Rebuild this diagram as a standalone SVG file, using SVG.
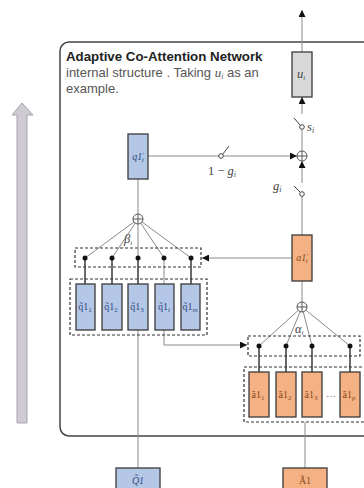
<svg xmlns="http://www.w3.org/2000/svg" width="364" height="488" viewBox="0 0 364 488">
<defs>
<marker id="ah" viewBox="0 0 8 8" refX="8" refY="4" markerWidth="7" markerHeight="7" orient="auto" markerUnits="userSpaceOnUse"><path d="M0,0 L8,4 L0,8 z" fill="#111"/></marker>
<style>
.box{stroke:#3a3a3a;stroke-width:1.3}
.blue{fill:#b4c7e7}
.org{fill:#f4b183}
.grey{fill:#d9d9d9}
.ln{stroke:#8a8a8a;stroke-width:1;fill:none}
.dk{stroke:#3a3a3a;stroke-width:1.5;fill:none}
.dash{fill:none;stroke:#333;stroke-width:1.2;stroke-dasharray:3,2}
.dot{fill:#111}
.plus{fill:#fff;stroke:#555;stroke-width:1}
.sw{fill:#fff;stroke:#444;stroke-width:1}
.lbl{font-family:"Liberation Serif",serif;font-size:10px;text-anchor:middle}
.bl{fill:#2e4a7d}
.br{fill:#8a4a1c}
.math{font-family:"Liberation Serif",serif;font-style:italic;font-size:12.5px;fill:#444}
</style>
</defs>
<rect width="364" height="488" fill="#fff"/>
<g id="bigarrow"><polygon points="17,423 27,423 27,115 33,115 22,103 12,115 17,115" fill="#cfcbd3" stroke="#a8a4ad" stroke-width="1"/></g>
<g id="container">
<rect x="60" y="42" width="330" height="394" rx="9" fill="none" stroke="#444" stroke-width="1.5"/>
<text x="66" y="61" font-family="Liberation Sans,Arial,sans-serif" font-size="13.3" font-weight="bold" fill="#222">Adaptive Co-Attention Network</text>
<text x="66" y="77" font-family="Liberation Sans,Arial,sans-serif" font-size="13" fill="#555">internal structure . Taking <tspan font-family="Liberation Serif,serif" font-style="italic">u<tspan font-size="8" dy="2">i</tspan></tspan><tspan dy="-2"> as an</tspan></text>
<text x="66" y="93" font-family="Liberation Sans,Arial,sans-serif" font-size="13" fill="#555">example.</text>
</g>
<g id="connectors">
<line class="ln" x1="302" y1="52" x2="302" y2="10" marker-end="url(#ah)"/>
<line class="ln" x1="302" y1="114" x2="302" y2="97" marker-end="url(#ah)"/>
<line class="ln" x1="302" y1="129" x2="302" y2="151"/>
<line class="ln" x1="148" y1="156" x2="219" y2="156"/>
<line class="ln" x1="223" y1="156" x2="297" y2="156" marker-end="url(#ah)"/>
<line class="ln" x1="302" y1="183" x2="302" y2="161" marker-end="url(#ah)"/>
<line class="ln" x1="302" y1="196" x2="302" y2="235"/>
<line class="ln" x1="138" y1="179" x2="138" y2="219"/>
<line class="ln" x1="292" y1="258" x2="202" y2="258" marker-end="url(#ah)"/>
<line class="ln" x1="302" y1="281" x2="302" y2="307"/>
<g class="ln">
<line x1="138" y1="219" x2="85" y2="258"/><line x1="138" y1="219" x2="112" y2="258"/><line x1="138" y1="219" x2="138" y2="258"/><line x1="138" y1="219" x2="164" y2="258"/><line x1="138" y1="219" x2="191" y2="258"/>
<line x1="302" y1="307" x2="259" y2="346"/><line x1="302" y1="307" x2="286" y2="346"/><line x1="302" y1="307" x2="312" y2="346"/><line x1="302" y1="307" x2="350" y2="346"/>
</g>
<g class="dk">
<line x1="85" y1="258" x2="85" y2="284"/><line x1="112" y1="258" x2="112" y2="284"/><line x1="138" y1="258" x2="138" y2="284"/><line x1="191" y1="258" x2="191" y2="284"/>
<line x1="259" y1="346" x2="259" y2="372"/><line x1="286" y1="346" x2="286" y2="372"/><line x1="312" y1="346" x2="312" y2="372"/><line x1="350" y1="346" x2="350" y2="372"/>
</g>
<line class="ln" x1="164" y1="258" x2="164" y2="284"/>
<line class="ln" x1="138" y1="330" x2="138" y2="468"/>
<path class="ln" d="M164,330 V345 H247" marker-end="url(#ah)"/>
<line class="ln" x1="305" y1="422" x2="305" y2="468"/>
</g>
<g id="switch-s">
<line x1="294" y1="118" x2="300.5" y2="125.5" stroke="#444" stroke-width="1"/>
<circle class="sw" cx="302" cy="127" r="2.3"/>
<text class="math" x="307" y="131">s<tspan font-size="8" dy="2">i</tspan></text>
</g>
<g id="switch-1mg">
<circle class="sw" cx="221" cy="156" r="2.3"/>
<line x1="222.5" y1="154.5" x2="229" y2="146" stroke="#444" stroke-width="1"/>
<text class="math" x="208" y="175"><tspan font-style="normal">1 − </tspan>g<tspan font-size="8" dy="2">i</tspan></text>
</g>
<g id="switch-g">
<line x1="294" y1="186" x2="300.5" y2="192.5" stroke="#444" stroke-width="1"/>
<circle class="sw" cx="302" cy="194" r="2.3"/>
<text class="math" x="273" y="190">g<tspan font-size="8" dy="2">i</tspan></text>
</g>
<g id="plus-top"><circle class="plus" cx="302" cy="156" r="5"/><path d="M297,156 H307 M302,151 V161" stroke="#555" stroke-width="1"/></g>
<g id="plus-q"><circle class="plus" cx="138" cy="219" r="5"/><path d="M133,219 H143 M138,214 V224" stroke="#555" stroke-width="1"/></g>
<g id="plus-a"><circle class="plus" cx="302" cy="307" r="5"/><path d="M297,307 H307 M302,302 V312" stroke="#555" stroke-width="1"/></g>
<g id="u-i"><rect class="box grey" x="292" y="52" width="20" height="45"/><text class="math" x="301" y="78" font-size="11.5" text-anchor="middle" fill="#333">u<tspan font-size="7" dy="2">i</tspan></text></g>
<g id="q1p"><rect class="box blue" x="128" y="134" width="20" height="45"/><text class="lbl bl" x="138" y="160" font-style="italic">q1<tspan font-size="7" dy="-3">′</tspan><tspan font-size="7" dx="-2" dy="5">i</tspan></text></g>
<g id="a1p"><rect class="box org" x="292" y="235" width="20" height="46"/><text class="lbl br" x="302" y="261" font-style="italic">a1<tspan font-size="7" dy="-3">′</tspan><tspan font-size="7" dx="-2" dy="5">i</tspan></text></g>
<g id="beta-att">
<rect class="dash" x="75" y="248" width="126" height="19"/>
<circle class="dot" cx="85" cy="258" r="2.5"/><circle class="dot" cx="112" cy="258" r="2.5"/><circle class="dot" cx="138" cy="258" r="2.5"/><circle class="dot" cx="164" cy="258" r="2.5"/><circle class="dot" cx="191" cy="258" r="2.5"/>
<text class="math" x="124" y="243" font-size="11" font-style="normal">β<tspan font-size="7" dy="2" font-style="italic">i</tspan></text>
</g>
<g id="alpha-att">
<rect class="dash" x="248" y="336" width="112" height="20"/>
<circle class="dot" cx="259" cy="346" r="2.5"/><circle class="dot" cx="286" cy="346" r="2.5"/><circle class="dot" cx="312" cy="346" r="2.5"/><circle class="dot" cx="350" cy="346" r="2.5"/>
<text class="math" x="295" y="333" font-size="11" font-style="normal">α<tspan font-size="7" dy="2" font-style="italic">i</tspan></text>
</g>
<g id="q-boxes">
<rect class="dash" x="70" y="279" width="137" height="56"/>
<rect class="box blue" x="76" y="284" width="19" height="46"/><text class="lbl bl" x="85" y="310">q̃1<tspan font-size="7" dy="2">1</tspan></text>
<rect class="box blue" x="102" y="284" width="20" height="46"/><text class="lbl bl" x="111" y="310">q̃1<tspan font-size="7" dy="2">2</tspan></text>
<rect class="box blue" x="128" y="284" width="20" height="46"/><text class="lbl bl" x="137" y="310">q̃1<tspan font-size="7" dy="2">3</tspan></text>
<rect class="box blue" x="155" y="284" width="19" height="46"/><text class="lbl bl" x="164" y="310">q̃1<tspan font-size="7" dy="2" font-style="italic">i</tspan></text>
<rect class="box blue" x="181" y="284" width="19" height="46"/><text class="lbl bl" x="190" y="310">q̃1<tspan font-size="7" dy="2" font-style="italic">m</tspan></text>
</g>
<g id="a-boxes">
<rect class="dash" x="244" y="367" width="125" height="55"/>
<rect class="box org" x="249" y="372" width="20" height="45"/><text class="lbl br" x="258" y="398">ã1<tspan font-size="7" dy="2">1</tspan></text>
<rect class="box org" x="276" y="372" width="20" height="45"/><text class="lbl br" x="285" y="398">ã1<tspan font-size="7" dy="2">2</tspan></text>
<rect class="box org" x="302" y="372" width="20" height="45"/><text class="lbl br" x="311" y="398">ã1<tspan font-size="7" dy="2">3</tspan></text>
<text class="lbl" x="331" y="397" fill="#777">…</text>
<rect class="box org" x="340" y="372" width="20" height="45"/><text class="lbl br" x="349" y="398">ã1<tspan font-size="7" dy="2" font-style="italic">p</tspan></text>
</g>
<g id="Q1"><rect class="box blue" x="116" y="468" width="44" height="26"/><text class="lbl bl" x="138" y="484" font-style="italic" font-size="11">Q̃1</text></g>
<g id="A1"><rect class="box org" x="283" y="468" width="44" height="26"/><text class="lbl br" x="305" y="484" font-size="11">Ã1</text></g>
</svg>
